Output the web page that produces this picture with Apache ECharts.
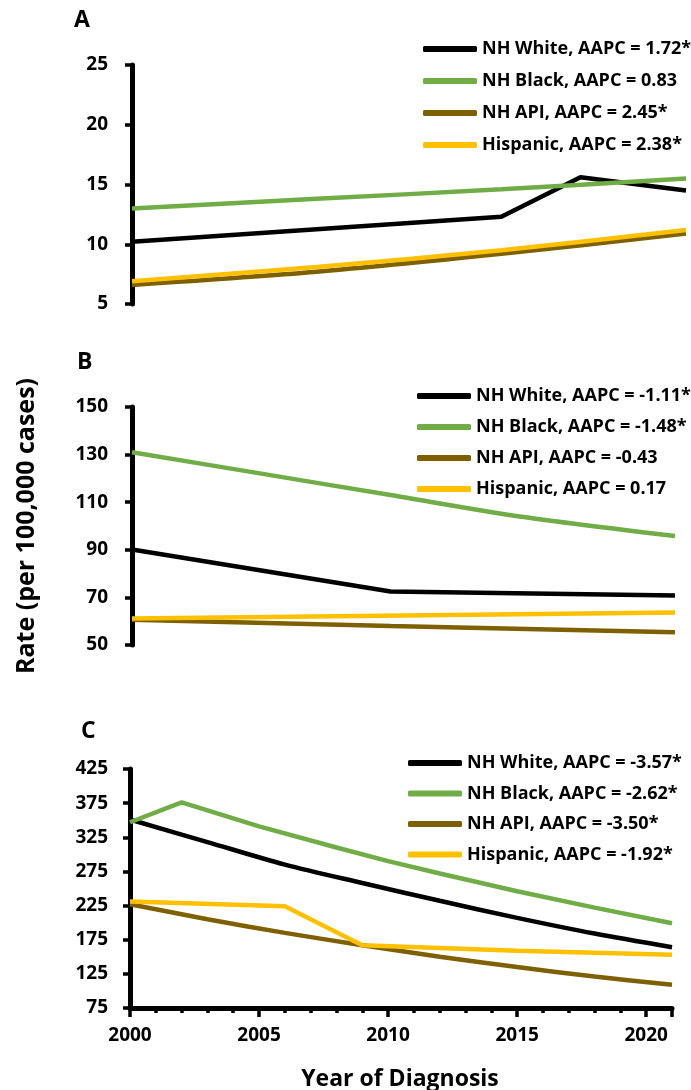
<!DOCTYPE html>
<html>
<head>
<meta charset="utf-8">
<script src="https://cdn.jsdelivr.net/npm/echarts@6/dist/echarts.min.js"></script>
<style>
  html, body { margin: 0; padding: 0; background: #fff; }
  #chart { width: 691px; height: 1090px; }
</style>
</head>
<body>
<div id="chart"></div>
<script>
// data, [year, rate]
var colors = ['#000000', '#70AD47', '#7F6000', '#FFC000'];

// panel A
var namesA = ['NH White, AAPC = 1.72*', 'NH Black, AAPC = 0.83', 'NH API, AAPC = 2.45*', 'Hispanic, AAPC = 2.38*'];
var whiteA = [[2000, 10.2], [2014, 12.3], [2017, 15.6], [2021, 14.5]];
var blackA = [[2000, 13.0], [2007, 13.8], [2014, 14.6], [2021, 15.5]];
var apiA = [[2000, 6.6], [2007, 7.7], [2014, 9.2], [2021, 10.9]];
var hispA = [[2000, 6.9], [2007, 8.1], [2014, 9.5], [2021, 11.2]];

// panel B
var namesB = ['NH White, AAPC = -1.11*', 'NH Black, AAPC = -1.48*', 'NH API, AAPC = -0.43', 'Hispanic, AAPC = 0.17'];
var whiteB = [[2000, 90.1], [2010, 72.5], [2021, 70.8]];
var blackB = [[2000, 131], [2005, 122], [2010, 113], [2015, 104], [2021, 95.8]];
var apiB = [[2000, 60.6], [2010, 58.0], [2021, 55.4]];
var hispB = [[2000, 61.1], [2021, 63.7]];

// panel C
var namesC = ['NH White, AAPC = -3.57*', 'NH Black, AAPC = -2.62*', 'NH API, AAPC = -3.50*', 'Hispanic, AAPC = -1.92*'];
var whiteC = [[2000, 351], [2003, 318], [2006, 285], [2009, 258], [2012, 232], [2015, 207], [2018, 184], [2021, 164]];
var blackC = [[2000, 347], [2002, 376], [2005, 341], [2008, 310], [2010, 290], [2012, 272], [2015, 246], [2018, 222], [2021, 199]];
var apiC = [[2000, 227], [2003, 205], [2006, 185], [2009, 167], [2012, 150], [2015, 135], [2018, 121], [2021, 109]];
var hispC = [[2000, 231], [2006, 224], [2009, 167], [2012, 163], [2015, 159], [2018, 156], [2021, 153]];

// y ticks
var yTicksA = [5, 10, 15, 20, 25];
var yTicksB = [50, 70, 90, 110, 130, 150];
var yTicksC = [75, 125, 175, 225, 275, 325, 375, 425];
var years = [2000, 2021];

var font = '"Open Sans", "Liberation Sans", sans-serif';

function yAxis(ticks, grid, margin) {
    return {
        type: 'value', gridIndex: grid,
        min: ticks[0], max: ticks[ticks.length - 1], interval: ticks[1] - ticks[0],
        axisLine: { show: true, lineStyle: { color: '#000', width: 5 } },
        axisTick: { show: true, length: 7, lineStyle: { color: '#000', width: 3.5 } },
        axisLabel: { margin: margin, color: '#000', fontSize: 19, fontWeight: 'bold', fontFamily: font },
        splitLine: { show: false }
    };
}

function xHidden(grid) {
    return { type: 'value', gridIndex: grid, min: years[0], max: years[1], show: false };
}

// smooth: which series are drawn as curves (no joinpoint kinks)
function makeSeries(names, data, idx, smooth) {
    return names.map(function (n, i) {
        return {
            name: n, type: 'line', xAxisIndex: idx, yAxisIndex: idx,
            data: data[i], showSymbol: false, symbol: 'none',
            smooth: smooth[i] ? 0.3 : false,
            color: colors[i],
            lineStyle: { width: 4.5, color: colors[i] },
            emphasis: { disabled: true }
        };
    });
}

function legend(names, left, top, gap) {
    return {
        data: names, orient: 'vertical', left: left, top: top,
        icon: 'roundRect', itemWidth: 54, itemHeight: 6, itemGap: gap,
        textStyle: { color: '#000', fontSize: 18, fontWeight: 'bold', fontFamily: font, lineHeight: 22 },
        selectedMode: false
    };
}

var myChart = echarts.init(document.getElementById('chart'));

var option = {
    animation: false,
    backgroundColor: '#fff',
    grid: [
        { left: 132, top: 65, width: 554, height: 239 },
        { left: 132, top: 407, width: 543, height: 238 },
        { left: 130, top: 769, width: 542, height: 239 }
    ],
    xAxis: [
        xHidden(0),
        xHidden(1),
        {
            type: 'value', gridIndex: 2, position: 'bottom', min: years[0], max: years[1], interval: 1,
            axisLine: { show: true, lineStyle: { color: '#000', width: 5 } },
            axisTick: { show: true, length: 5, lineStyle: { color: '#000', width: 3.5 } },
            axisLabel: {
                margin: 18, color: '#000', fontSize: 19, fontWeight: 'bold', fontFamily: font,
                formatter: function (v) { return v % 5 === 0 ? String(v) : ''; }
            },
            splitLine: { show: false }
        },
        {
            // longer ticks every 5 years
            type: 'value', gridIndex: 2, position: 'bottom', offset: 0, min: years[0], max: years[1], interval: 5,
            axisLine: { show: false },
            axisTick: { show: true, length: 9, lineStyle: { color: '#000', width: 3.5 } },
            axisLabel: { show: false },
            splitLine: { show: false }
        }
    ],
    yAxis: [
        yAxis(yTicksA, 0, 24),
        yAxis(yTicksB, 1, 24),
        yAxis(yTicksC, 2, 22)
    ],
    legend: [
        legend(namesA, 418, 33, 10),
        legend(namesB, 412, 380, 9),
        legend(namesC, 403, 747, 8.5)
    ],
    graphic: [
        { type: 'text', left: 74, top: 9, style: { text: 'A', fontSize: 23, fontWeight: 'bold', fontFamily: font, fill: '#000' } },
        { type: 'text', left: 77, top: 351, style: { text: 'B', fontSize: 23, fontWeight: 'bold', fontFamily: font, fill: '#000' } },
        { type: 'text', left: 81, top: 720, style: { text: 'C', fontSize: 23, fontWeight: 'bold', fontFamily: font, fill: '#000' } },
        {
            type: 'text', x: 27, y: 526, rotation: Math.PI / 2,
            style: { text: 'Rate (per 100,000 cases)', fontSize: 25, fontWeight: 'bold', fontFamily: font, fill: '#000', align: 'center', verticalAlign: 'middle' }
        },
        {
            type: 'text', x: 400, y: 1079,
            style: { text: 'Year of Diagnosis', fontSize: 23, fontWeight: 'bold', fontFamily: font, fill: '#000', align: 'center', verticalAlign: 'middle' }
        }
    ],
    series: [].concat(
        makeSeries(namesA, [whiteA, blackA, apiA, hispA], 0, [false, true, true, true]),
        makeSeries(namesB, [whiteB, blackB, apiB, hispB], 1, [false, true, false, false]),
        makeSeries(namesC, [whiteC, blackC, apiC, hispC], 2, [true, false, true, false])
    )
};

myChart.setOption(option);
</script>
</body>
</html>
